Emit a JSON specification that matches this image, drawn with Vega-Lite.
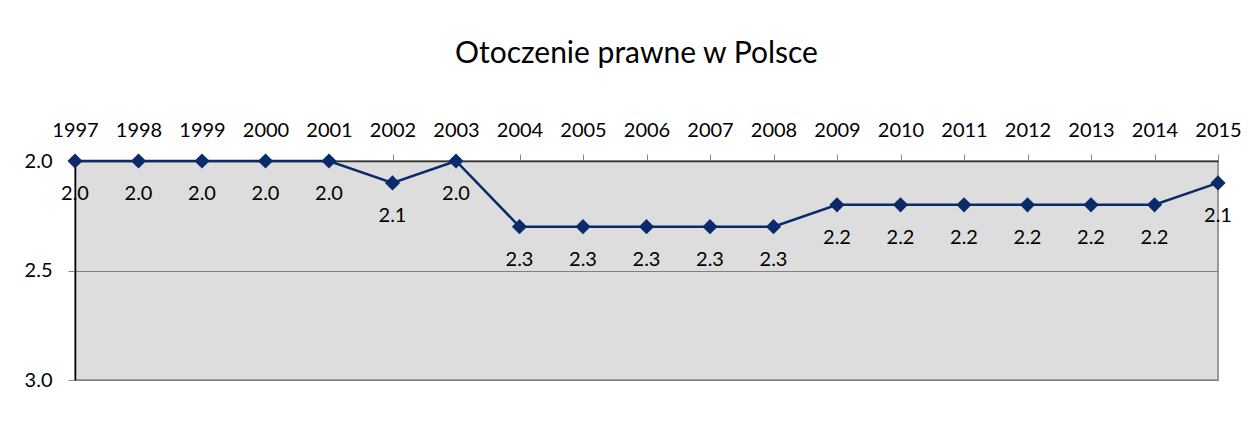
{
  "$schema": "https://vega.github.io/schema/vega-lite/v6.json",
  "autosize": "none",
  "width": 1143,
  "height": 219,
  "padding": {"left": 75, "top": 161, "right": 30, "bottom": 43},
  "background": "white",
  "title": {
    "text": "Otoczenie prawne w Polsce",
    "font": "Lato",
    "fontSize": 30,
    "fontWeight": "normal",
    "color": "#000000",
    "anchor": "middle",
    "offset": 51,
    "dx": -10
  },
  "config": {
    "view": {"fill": "#dddddd", "stroke": "#9a9a9a", "strokeWidth": 2},
    "axis": {"labelFont": "Lato", "labelFontSize": 20, "labelColor": "#000000"}
  },
  "data": {
    "values": [
      {"year": "1997", "value": 2.0},
      {"year": "1998", "value": 2.0},
      {"year": "1999", "value": 2.0},
      {"year": "2000", "value": 2.0},
      {"year": "2001", "value": 2.0},
      {"year": "2002", "value": 2.1},
      {"year": "2003", "value": 2.0},
      {"year": "2004", "value": 2.3},
      {"year": "2005", "value": 2.3},
      {"year": "2006", "value": 2.3},
      {"year": "2007", "value": 2.3},
      {"year": "2008", "value": 2.3},
      {"year": "2009", "value": 2.2},
      {"year": "2010", "value": 2.2},
      {"year": "2011", "value": 2.2},
      {"year": "2012", "value": 2.2},
      {"year": "2013", "value": 2.2},
      {"year": "2014", "value": 2.2},
      {"year": "2015", "value": 2.1}
    ]
  },
  "encoding": {
    "x": {
      "field": "year",
      "type": "ordinal",
      "scale": {"type": "point", "padding": 0},
      "axis": {
        "orient": "top",
        "title": null,
        "labelAngle": 0,
        "domainColor": "#333333",
        "domainWidth": 1.5,
        "tickColor": "#888888",
        "tickSize": 7,
        "labelPadding": 14,
        "grid": false
      }
    },
    "y": {
      "field": "value",
      "type": "quantitative",
      "scale": {"domain": [2, 3], "reverse": true, "nice": false, "zero": false},
      "axis": {
        "title": null,
        "values": [2, 2.5, 3],
        "format": ".1f",
        "domainColor": "#000000",
        "domainWidth": 1.5,
        "tickColor": "#888888",
        "tickSize": 7,
        "labelPadding": 16,
        "grid": true,
        "gridColor": "#808080",
        "gridWidth": 1
      }
    }
  },
  "layer": [
    {
      "mark": {"type": "line", "color": "#0b2a6a", "strokeWidth": 2.5},
      "encoding": {}
    },
    {
      "mark": {"type": "point", "shape": "diamond", "filled": true, "color": "#0b2a6a", "size": 230, "opacity": 1},
      "encoding": {}
    },
    {
      "mark": {"type": "text", "dy": 33, "baseline": "middle", "font": "Lato", "fontSize": 20, "color": "#000000"},
      "encoding": {"text": {"field": "value", "type": "quantitative", "format": ".1f"}}
    }
  ]
}
